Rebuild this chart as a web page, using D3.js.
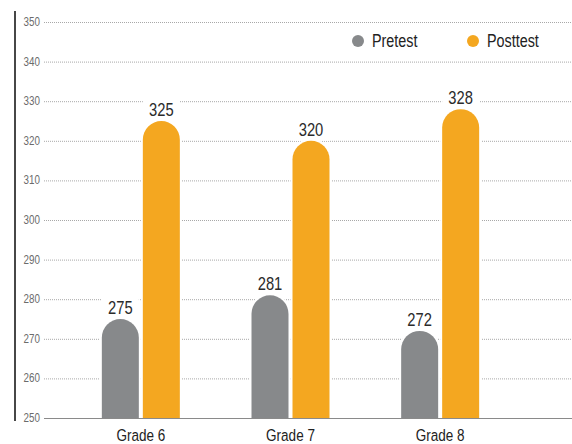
<!DOCTYPE html>
<html>
<head>
<meta charset="utf-8">
<script src="https://cdn.jsdelivr.net/npm/d3@7"></script>
<style>
  body { margin: 0; background: #fff; }
  text { font-family: "Liberation Sans", Arial, sans-serif; }
</style>
</head>
<body>
<script>
// chart data
var grades = ["Grade 6", "Grade 7", "Grade 8"];
var series = ["Pretest", "Posttest"];
var pretest = [275, 281, 272];
var posttest = [325, 320, 328];
var yTicks = [250, 260, 270, 280, 290, 300, 310, 320, 330, 340, 350];

var colors = { Pretest: "#87898b", Posttest: "#f4a720" };

var width = 572, height = 444;
var gridLeft = 44, gridRight = 572;
var narrow = 0.82; // horizontal squeeze to mimic the condensed face

var svg = d3.select("body").append("svg")
    .attr("width", width)
    .attr("height", height);

// place a text at (px, py) squeezed horizontally
function at(px, py) {
    return "translate(" + px + "," + py + ") scale(" + narrow + ",1)";
}

// scales
var y = d3.scaleLinear().domain([250, 350]).range([418, 22]);
var x0 = d3.scaleBand().domain(grades).range([66, 515]).padding(0);
var groupW = 78;
var x1 = d3.scaleBand().domain(series)
    .range([x0.bandwidth() / 2 - groupW / 2, x0.bandwidth() / 2 + groupW / 2])
    .paddingInner(0.0976);

// dotted gridlines
svg.append("g").selectAll("line")
    .data(yTicks.filter(function (d) { return d > 250; }))
    .enter().append("line")
    .attr("x1", gridLeft).attr("x2", gridRight)
    .attr("y1", function (d) { return y(d) + 0.5; })
    .attr("y2", function (d) { return y(d) + 0.5; })
    .attr("stroke", "#a8a8a8")
    .attr("stroke-width", 1)
    .attr("stroke-dasharray", "1,1");

// y axis line
svg.append("line")
    .attr("x1", 15).attr("x2", 15)
    .attr("y1", 11).attr("y2", 421)
    .attr("stroke", "#333")
    .attr("stroke-width", 1.8);

// y tick labels
svg.append("g").selectAll("text")
    .data(yTicks)
    .enter().append("text")
    .attr("transform", function (d) { return at(40, y(d) + 4); })
    .attr("text-anchor", "end")
    .attr("font-size", 12)
    .attr("fill", "#6b6b6b")
    .text(function (d) { return d; });

// table of bars
var rows = [];
grades.forEach(function (g, i) {
    rows.push({ grade: g, key: "Pretest", value: pretest[i] });
    rows.push({ grade: g, key: "Posttest", value: posttest[i] });
});

function barPath(d) {
    var bx = x0(d.grade) + x1(d.key);
    var w = x1.bandwidth();
    var r = w / 2;
    var top = y(d.value);
    var base = y(250);
    return "M" + bx + "," + base +
        "L" + bx + "," + (top + r) +
        "A" + r + "," + r + " 0 0 1 " + (bx + w) + "," + (top + r) +
        "L" + (bx + w) + "," + base + "Z";
}

// white boxes behind value labels
svg.append("g").selectAll("rect")
    .data(rows)
    .enter().append("rect")
    .attr("x", function (d) { return x0(d.grade) + x1(d.key); })
    .attr("y", function (d) { return y(d.value) - 24; })
    .attr("width", x1.bandwidth())
    .attr("height", 24)
    .attr("fill", "#fff");

svg.append("g").selectAll("path")
    .data(rows)
    .enter().append("path")
    .attr("d", barPath)
    .attr("fill", function (d) { return colors[d.key]; })
    .attr("stroke", "#fff")
    .attr("stroke-width", 4)
    .style("paint-order", "stroke");

// value labels
svg.append("g").selectAll("text")
    .data(rows)
    .enter().append("text")
    .attr("transform", function (d) {
        return at(x0(d.grade) + x1(d.key) + x1.bandwidth() / 2, y(d.value) - 5);
    })
    .attr("text-anchor", "middle")
    .attr("font-size", 18)
    .attr("fill", "#2b2b2b")
    .text(function (d) { return d.value; });

// baseline
svg.append("line")
    .attr("x1", gridLeft).attr("x2", gridRight)
    .attr("y1", y(250) + 0.5).attr("y2", y(250) + 0.5)
    .attr("stroke", "#8a8a8a")
    .attr("stroke-width", 1.2);

// x labels
svg.append("g").selectAll("text")
    .data(grades)
    .enter().append("text")
    .attr("transform", function (d) { return at(x0(d) + x0.bandwidth() / 2, 441); })
    .attr("text-anchor", "middle")
    .attr("font-size", 16.5)
    .attr("fill", "#222")
    .text(function (d) { return d; });

// legend
var legendX = [358, 473];
var legend = svg.append("g").selectAll("g")
    .data(series)
    .enter().append("g")
    .attr("transform", function (d, i) { return "translate(" + legendX[i] + ",41)"; });

legend.append("circle")
    .attr("r", 6)
    .attr("fill", function (d) { return colors[d]; });

legend.append("text")
    .attr("transform", at(14, 6))
    .attr("font-size", 17.5)
    .attr("fill", "#222")
    .text(function (d) { return d; });
</script>
</body>
</html>
